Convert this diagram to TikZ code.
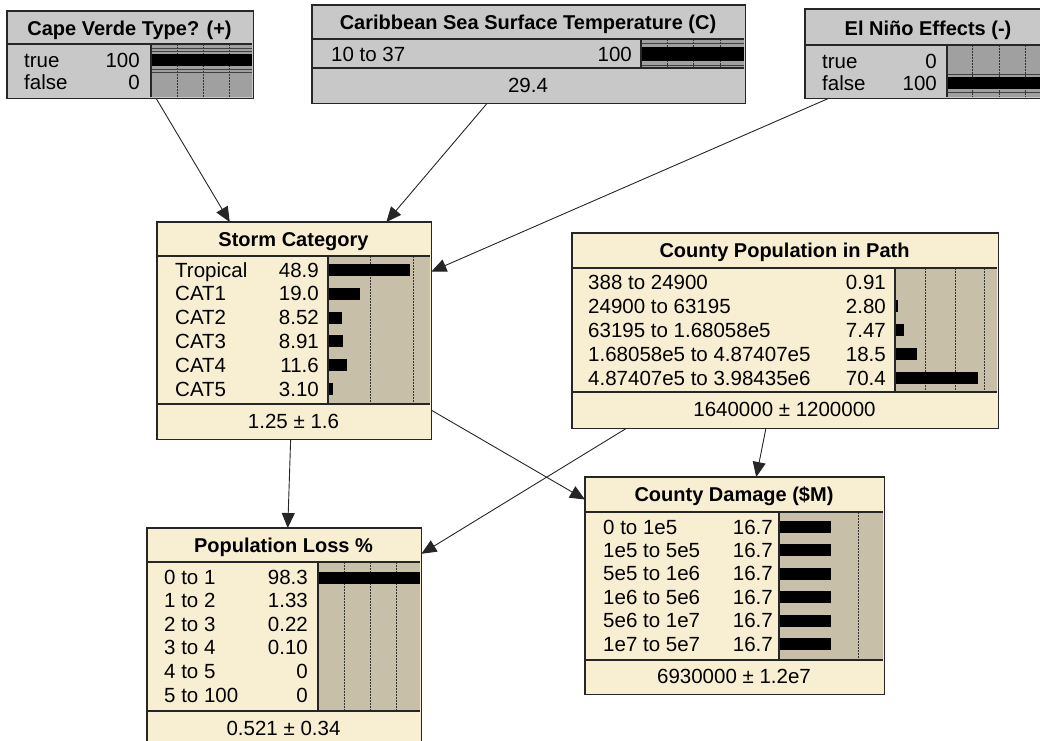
\documentclass[tikz,border=0pt]{standalone}
\usepackage{fontspec}
\setmainfont{Liberation Sans}
\usetikzlibrary{arrows.meta}

\definecolor{nodebeige}{RGB}{248,238,210}
\definecolor{barbeige}{RGB}{200,191,168}
\definecolor{nodegray}{RGB}{200,200,200}
\definecolor{bargray}{RGB}{160,160,160}

\begin{document}
\begin{tikzpicture}[x=1pt, y=-1pt,
						every node/.style = {inner sep=0pt},
						bnode/.style = {rectangle, fill=nodebeige, anchor=north west, outer sep=0.7pt},
						gnode/.style = {rectangle, fill=nodegray, anchor=north west, outer sep=0.7pt},
						boxframe/.style = {draw=black!85, line width=1.4pt},
						gridtick/.style = {draw=black!80, line width=0.8pt, dash pattern=on 1.5pt off 1.5pt},
						fullbar/.style = {draw=black!75, line width=0.8pt},
						headtext/.style = {anchor=base, font=\fontsize{20}{22}\selectfont\bfseries},
						rowlab/.style = {anchor=base west, font=\fontsize{20.5}{22}\selectfont},
						rowval/.style = {anchor=base east, font=\fontsize{20.5}{22}\selectfont},
						meantext/.style = {anchor=base, font=\fontsize{20.5}{22}\selectfont},
						link/.style = {draw=black!85, line width=0.9pt, -{Triangle[length=15pt,width=13pt]}},
					]

\clip (0,0) rectangle (1040,740);

% Cape Verde Type
\node[gnode, minimum width=245pt, minimum height=86pt] (cape) at (7,11) {};
\fill[bargray] (151,44) rectangle (252,97);
\foreach \x in {177,203,229} \draw[gridtick] (\x,44) -- (\x,97);
\fill (151,54) rectangle (252,66);
\draw[fullbar] (151,48) -- (252,48) (151,51) -- (252,51) (151,69) -- (252,69) (151,72) -- (252,72);
\node[headtext] at (129.5,35) {Cape Verde Type? (+)};
\node[rowlab] at (24,67) {true};
\node[rowval] at (140,67) {100};
\node[rowlab] at (24,89) {false};
\node[rowval] at (140,89) {0};
\draw[boxframe] (7,44) -- (252,44) (151,44) -- (151,97);
\draw[boxframe] (cape.north west) rectangle (cape.south east);

% Caribbean sea surface temperature
\node[gnode, minimum width=432pt, minimum height=97pt] (sst) at (312,5) {};
\fill[bargray] (641,39) rectangle (744,68);
\foreach \x in {667,693,720} \draw[gridtick] (\x,39) -- (\x,68);
\fill (641,47) rectangle (744,61);
\draw[fullbar] (641,43) -- (744,43) (641,65) -- (744,65);
\node[headtext] at (528,29) {Caribbean Sea Surface Temperature (C)};
\node[rowlab] at (331,61) {10 to 37};
\node[rowval] at (632,61) {100};
\node[meantext] at (528,92) {29.4};
\draw[boxframe] (312,39) -- (744,39) (312,68) -- (744,68) (641,39) -- (641,68);
\draw[boxframe] (sst.north west) rectangle (sst.south east);

% El Nino
\node[gnode, minimum width=250pt, minimum height=88pt] (nino) at (805,9) {};
\fill[bargray] (947,45) rectangle (1055,97);
\foreach \x in {972,999,1025} \draw[gridtick] (\x,45) -- (\x,97);
\fill (947,77) rectangle (1055,89);
\draw[fullbar] (947,74) -- (1055,74) (947,92.5) -- (1055,92.5);
\node[headtext] at (928,35) {El Niño Effects (-)};
\node[rowlab] at (822,68) {true};
\node[rowval] at (937,68) {0};
\node[rowlab] at (822,90) {false};
\node[rowval] at (937,90) {100};
\draw[boxframe] (805,45) -- (1055,45) (947,45) -- (947,97);
\draw[boxframe] (nino.north west) rectangle (nino.south east);

% Storm category
\node[bnode, minimum width=273pt, minimum height=216pt] (storm) at (157,222) {};
\fill[barbeige] (328,256) rectangle (430,404);
\foreach \x in {370,413} \draw[gridtick] (\x,256) -- (\x,404);
\foreach \state/\prob [count=\i from 0] in {Tropical/48.9, CAT1/19.0, CAT2/8.52, CAT3/8.91, CAT4/11.6, CAT5/3.10} {
	\node[rowlab] at (175,{277+23.8*\i}) {\state};
	\node[rowval] at (319,{277+23.8*\i}) {\prob};
	\fill (328,{264+23.8*\i}) rectangle ++({1.68*\prob},12);
}
\node[headtext] at (293.5,246) {Storm Category};
\node[meantext] at (293.5,428) {1.25 ± 1.6};
\draw[boxframe] (157,256) -- (430,256) (157,404) -- (430,404) (328,256) -- (328,404);
\draw[boxframe] (storm.north west) rectangle (storm.south east);

% County population in path
\node[bnode, minimum width=425pt, minimum height=194pt] (pop) at (572,233) {};
\fill[barbeige] (895,268) rectangle (997,392);
\foreach \x in {925,955,984} \draw[gridtick] (\x,268) -- (\x,392);
\foreach \state/\prob [count=\i from 0] in {388 to 24900/0.91, 24900 to 63195/2.80, 63195 to 1.68058e5/7.47, 1.68058e5 to 4.87407e5/18.5, 4.87407e5 to 3.98435e6/70.4} {
	\node[rowlab] at (588,{289+24*\i}) {\state};
	\node[rowval] at (886,{289+24*\i}) {\prob};
	\fill (895,{276+24*\i}) rectangle ++({1.18*\prob},12);
}
\node[headtext] at (784.5,257.5) {County Population in Path};
\node[meantext] at (784.5,416.5) {1640000 ± 1200000};
\draw[boxframe] (572,268) -- (997,268) (572,392) -- (997,392) (895,268) -- (895,392);
\draw[boxframe] (pop.north west) rectangle (pop.south east);

% Population loss
\node[bnode, minimum width=273pt, minimum height=217pt] (loss) at (147,528) {};
\fill[barbeige] (318,562) rectangle (420,711);
\foreach \x in {344,370,396} \draw[gridtick] (\x,562) -- (\x,711);
\foreach \state/\prob [count=\i from 0] in {0 to 1/98.3, 1 to 2/1.33, 2 to 3/0.22, 3 to 4/0.10, 4 to 5/0, 5 to 100/0} {
	\node[rowlab] at (164,{584+23.6*\i}) {\state};
	\node[rowval] at (308,{584+23.6*\i}) {\prob};
	\fill (318,{572+23.6*\i}) rectangle ++({1.04*\prob},12);
}
\node[headtext] at (283.5,552) {Population Loss \%};
\node[meantext] at (283.5,735) {0.521 ± 0.34};
\draw[boxframe] (147,562) -- (420,562) (147,711) -- (420,711) (318,562) -- (318,711);
\draw[boxframe] (loss.north west) rectangle (loss.south east);

% County damage
\node[bnode, minimum width=298pt, minimum height=216pt] (dmg) at (585,477) {};
\fill[barbeige] (779,512) rectangle (883,660);
\foreach \x in {858} \draw[gridtick] (\x,512) -- (\x,660);
\foreach \state/\prob [count=\i from 0] in {0 to 1e5/16.7, 1e5 to 5e5/16.7, 5e5 to 1e6/16.7, 1e6 to 5e6/16.7, 5e6 to 1e7/16.7, 1e7 to 5e7/16.7} {
	\node[rowlab] at (603,{534+23.4*\i}) {\state};
	\node[rowval] at (773,{534+23.4*\i}) {\prob};
	\fill (779,{521+23.4*\i}) rectangle ++({3.1*\prob},12);
}
\node[headtext] at (734,501.5) {County Damage (\$M)};
\node[meantext] at (734,683.5) {6930000 ± 1.2e7};
\draw[boxframe] (585,512) -- (883,512) (585,660) -- (883,660) (779,512) -- (779,660);
\draw[boxframe] (dmg.north west) rectangle (dmg.south east);

% links
\draw[link] (cape) -- (storm);
\draw[link] (sst) -- (storm);
\draw[link] (nino) -- (storm);
\draw[link] (storm) -- (loss);
\draw[link] (storm) -- (dmg);
\draw[link] (pop) -- (loss);
\draw[link] (pop) -- (dmg);

\end{tikzpicture}
\end{document}
